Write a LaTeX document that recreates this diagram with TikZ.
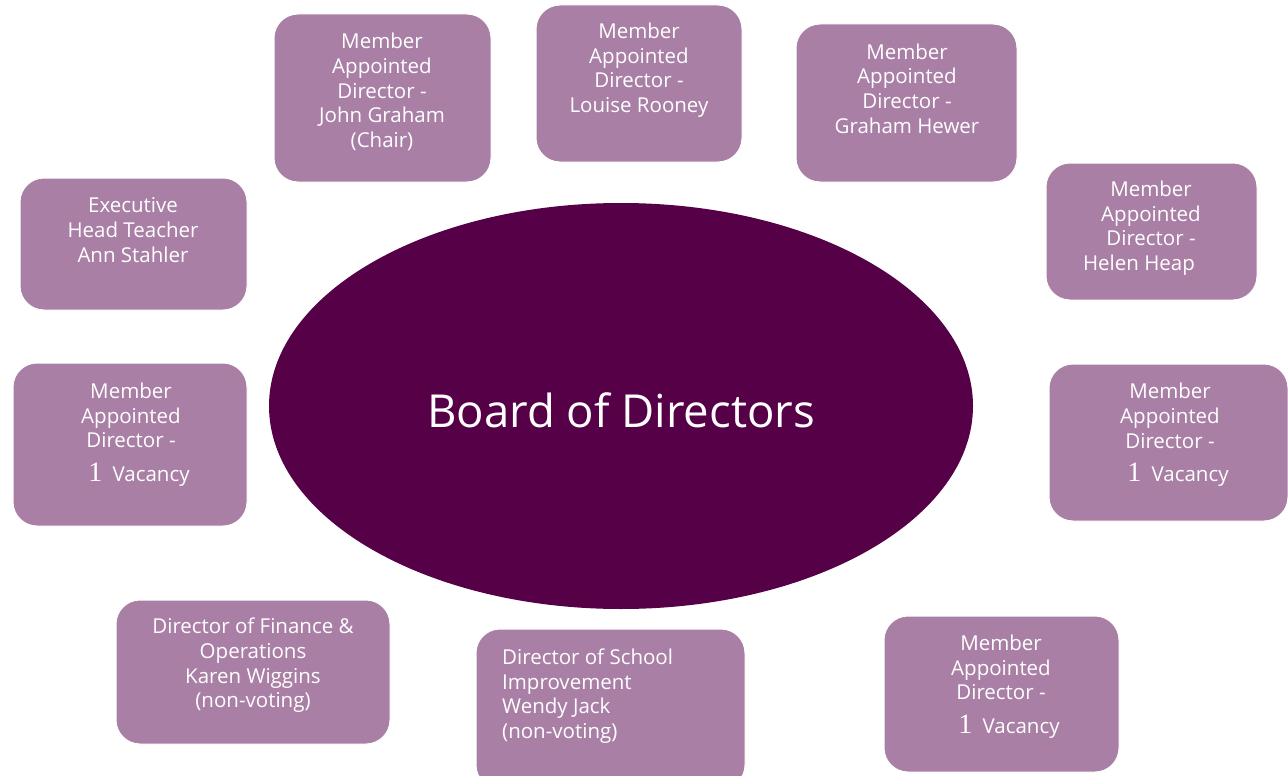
\documentclass[tikz,border=0pt]{standalone}
\usepackage{fontspec}
\setmainfont{Open Sans}
\newfontfamily\numfont{Liberation Serif}
\usetikzlibrary{shapes.geometric}
\definecolor{mauve}{HTML}{A97FA6}
\definecolor{plum}{HTML}{560047}
\newcommand{\vacnum}{\hspace*{16pt}{\numfont\fontsize{28}{24}\selectfont 1}}
\tikzset{
  dirbox/.style={fill=mauve, draw=white, line width=1pt, rounded corners=24pt, inner sep=0pt},
  dirtext/.style={text=white, font=\fontsize{20.5}{24.6}\selectfont, align=center, inner sep=0pt}
}
\begin{document}
\begin{tikzpicture}[x=1pt, y=-1pt]
	\useasboundingbox (0,0) rectangle (1288,776);
	% centre
	\node[ellipse, fill=plum, minimum width=704, minimum height=406, inner sep=0pt] (board) at (621,406) {};
	\node[text=white, font=\fontsize{45.5}{50}\selectfont] (boardtxt) at (621,410) {Board of Directors};
	% boxes
	\node[dirbox, minimum width=217, minimum height=168] (chair) at (382.5,98) {};
	\node[dirtext] (chairtxt) at (382,92) {Member\\Appointed\\Director -\\John Graham\\(Chair)};
	\node[dirbox, minimum width=206, minimum height=157] (rooney) at (639,83.5) {};
	\node[dirtext] (rooneytxt) at (639,70) {Member\\Appointed\\Director -\\Louise Rooney};
	\node[dirbox, minimum width=221, minimum height=158] (hewer) at (906.5,103) {};
	\node[dirtext] (hewertxt) at (907,88.5) {Member\\Appointed\\Director -\\Graham Hewer};
	\node[dirbox, minimum width=211, minimum height=137] (heap) at (1151.5,231.5) {};
	\node[dirtext] (heaptxt) at (1151,228) {Member\\Appointed\\Director -\\Helen Heap\hspace*{24pt}};
	\node[dirbox, minimum width=239, minimum height=157] (vacright) at (1168.5,442.5) {};
	\node[dirtext] (vacrighttxt) at (1170,435) {Member\\Appointed\\Director -\\[9pt]\vacnum\enspace Vacancy};
	\node[dirbox, minimum width=235, minimum height=156] (vaclow) at (1001.5,694) {};
	\node[dirtext] (vaclowtxt) at (1001,686.5) {Member\\Appointed\\Director -\\[9pt]\vacnum\enspace Vacancy};
	\node[dirbox, minimum width=269, minimum height=160] (jack) at (610.5,709) {};
	\node[dirtext, align=left, anchor=west] (jacktxt) at (502,696) {Director of School\\Improvement\\Wendy Jack\\(non-voting)};
	\node[dirbox, minimum width=274, minimum height=144] (wiggins) at (253,672) {};
	\node[dirtext] (wigginstxt) at (253,665.5) {Director of Finance \&\\Operations\\Karen Wiggins\\(non-voting)};
	\node[dirbox, minimum width=234, minimum height=163] (vacleft) at (130,444.5) {};
	\node[dirtext] (vaclefttxt) at (131,434.5) {Member\\Appointed\\Director -\\[9pt]\vacnum\enspace Vacancy};
	\node[dirbox, minimum width=227, minimum height=132] (head) at (133.5,244) {};
	\node[dirtext] (headtxt) at (133,230) {Executive\\Head Teacher\\Ann Stahler};
\end{tikzpicture}
\end{document}
